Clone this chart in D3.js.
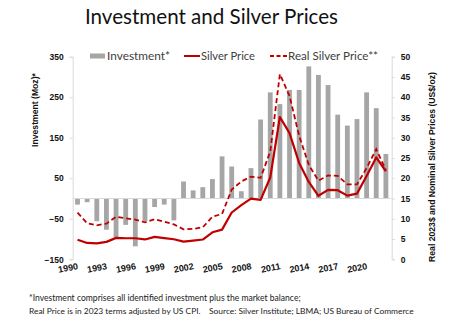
<!DOCTYPE html>
<html><head><meta charset="utf-8">
<script src="https://cdn.jsdelivr.net/npm/d3@7"></script>
<style>body{margin:0;background:#fff}</style></head>
<body>
<svg id="c" width="451" height="322"></svg>
<script>
const years = ["1990","1991","1992","1993","1994","1995","1996","1997","1998","1999","2000","2001","2002","2003","2004","2005","2006","2007","2008","2009","2010","2011","2012","2013","2014","2015","2016","2017","2018","2019","2020","2021","2022"];
const investment = [-15,-9,-56,-77,-95,-65,-118,-56,-21,-15,-54,42,20,28,48,104,79,18,75,195,262,233,268,268,326,305,280,207,180,196,262,223,110];
const silverPrice = [4.82,4.04,3.94,4.30,5.29,5.20,5.20,4.90,5.53,5.22,4.95,4.37,4.60,4.88,6.67,7.32,11.55,13.38,14.99,14.67,20.19,35.12,31.15,23.79,19.08,15.68,17.14,17.05,15.71,16.21,20.55,25.14,21.73];
const realPrice = [11.5,8.9,8.4,8.8,10.5,10.1,9.8,9.1,9.9,9.3,8.6,7.4,7.5,7.9,10.5,11.2,17.2,19.2,20.4,20.1,26.6,45.7,40.3,30.5,23.3,19.4,20.7,20.6,18.5,18.5,22.5,27.2,22.0];
const leftTicks = [-150,-50,50,150,250,350];
const rightTicks = [0,5,10,15,20,25,30,35,40,45,50];
const xTickLabels = ["1990","1993","1996","1999","2002","2005","2008","2011","2014","2017","2020"];

const svg = d3.select("#c");
const X0 = 72.7, X1 = 390.7, YT = 56.7, YB = 259.3;
const RED = "#C00000", GREY = "#A6A6A6", AX = "#d9d9d9";

const x = d3.scaleBand().domain(years).range([X0, X1]).paddingInner(0.5).paddingOuter(0.25);
const yL = d3.scaleLinear().domain([-150, 350]).range([YB, YT]);
const yR = d3.scaleLinear().domain([0, 50]).range([YB, YT]);
const cx = d => x(d) + x.bandwidth() / 2;

function fit(sel, w) {
  const n = sel.node();
  const fs = parseFloat(sel.attr("font-size"));
  const cur = n.getComputedTextLength();
  sel.attr("font-size", (fs * w / cur).toFixed(2));
}

// title
const title = svg.append("text").attr("x", 211.5).attr("y", 24).attr("text-anchor", "middle")
  .attr("font-family", "Lato, 'Open Sans', sans-serif").attr("font-size", 20).attr("fill", "#111")
  .text("Investment and Silver Prices");
fit(title, 253);

// bars
svg.append("g").selectAll("rect").data(years).join("rect")
  .attr("x", d => x(d)).attr("width", x.bandwidth())
  .attr("y", (d, i) => yL(Math.max(0, investment[i])))
  .attr("height", (d, i) => Math.abs(yL(investment[i]) - yL(0)))
  .attr("fill", GREY);

// zero line
svg.append("line").attr("x1", X0).attr("x2", X1).attr("y1", yL(0)).attr("y2", yL(0))
  .attr("stroke", AX).attr("stroke-width", 1);

// axes
const gL = svg.append("g").attr("transform", `translate(${X0},0)`)
  .call(d3.axisLeft(yL).tickValues(leftTicks).tickSize(3).tickPadding(6));
const gR = svg.append("g").attr("transform", `translate(${X1 + 1},0)`)
  .call(d3.axisRight(yR).tickValues(rightTicks).tickSize(3).tickPadding(6));
[gL, gR].forEach(g => {
  g.select(".domain").attr("stroke", AX);
  g.selectAll(".tick line").attr("stroke", AX);
  g.selectAll(".tick text").attr("font-family", "'Liberation Sans', Arial, sans-serif")
    .attr("font-weight", "bold").attr("font-size", 8.5).attr("fill", "#111");
});

// x labels
svg.append("g").selectAll("text").data(xTickLabels).join("text")
  .attr("transform", d => `translate(${cx(d) + 1},269) rotate(-11)`)
  .attr("text-anchor", "end")
  .attr("font-family", "'Liberation Sans', Arial, sans-serif").attr("font-weight", "bold")
  .attr("font-size", 9).attr("fill", "#111").text(d => d);

// lines
const lineR = d3.line().x((d, i) => cx(years[i])).y(d => yR(d));
svg.append("path").attr("d", lineR(silverPrice)).attr("fill", "none")
  .attr("stroke", RED).attr("stroke-width", 2.2).attr("stroke-linejoin", "round");
svg.append("path").attr("d", lineR(realPrice)).attr("fill", "none")
  .attr("stroke", RED).attr("stroke-width", 1.8).attr("stroke-dasharray", "5,3");

// axis titles
const tL = svg.append("text").attr("transform", "translate(38,110) rotate(-90)").attr("text-anchor", "middle")
  .attr("font-family", "'Liberation Sans', Arial, sans-serif").attr("font-weight", "bold")
  .attr("font-size", 8.5).attr("fill", "#111").text("Investment (Moz)*");
fit(tL, 74);
const tR = svg.append("text").attr("transform", "translate(435,167) rotate(-90)").attr("text-anchor", "middle")
  .attr("font-family", "'Liberation Sans', Arial, sans-serif").attr("font-weight", "bold")
  .attr("font-size", 8).attr("fill", "#111").text("Real 2023$ and Nominal Silver Prices (US$/oz)");
fit(tR, 190);

// legend
const LF = "Lato, 'Open Sans', sans-serif";
const leg = svg.append("g").attr("font-family", LF).attr("font-size", 12).attr("fill", "#404040");
leg.append("rect").attr("x", 90).attr("y", 53.5).attr("width", 15).attr("height", 5).attr("fill", GREY);
const l1 = leg.append("text").attr("x", 107).attr("y", 60).attr("font-size", 12).text("Investment*");
fit(l1, 63);
leg.append("line").attr("x1", 184).attr("x2", 200).attr("y1", 56).attr("y2", 56).attr("stroke", RED).attr("stroke-width", 2);
const l2 = leg.append("text").attr("x", 201).attr("y", 60).attr("font-size", 12).text("Silver Price");
fit(l2, 54);
leg.append("line").attr("x1", 270).attr("x2", 287).attr("y1", 56).attr("y2", 56).attr("stroke", RED).attr("stroke-width", 1.8).attr("stroke-dasharray", "4,2.5");
const l3 = leg.append("text").attr("x", 288).attr("y", 60).attr("font-size", 12).text("Real Silver Price**");
fit(l3, 90);

// footnote
const fn = svg.append("g").attr("font-family", LF).attr("fill", "#222");
const f1 = fn.append("text").attr("x", 29).attr("y", 301).attr("font-size", 8)
  .text("*Investment comprises all identified investment plus the market balance;");
fit(f1, 272);
const f2 = fn.append("text").attr("x", 29).attr("y", 314).attr("font-size", 8).attr("xml:space", "preserve")
  .text("Real Price is in 2023 terms adjusted by US CPI.    Source: Silver Institute; LBMA; US Bureau of Commerce");
fit(f2, 386);
</script>
</body></html>
